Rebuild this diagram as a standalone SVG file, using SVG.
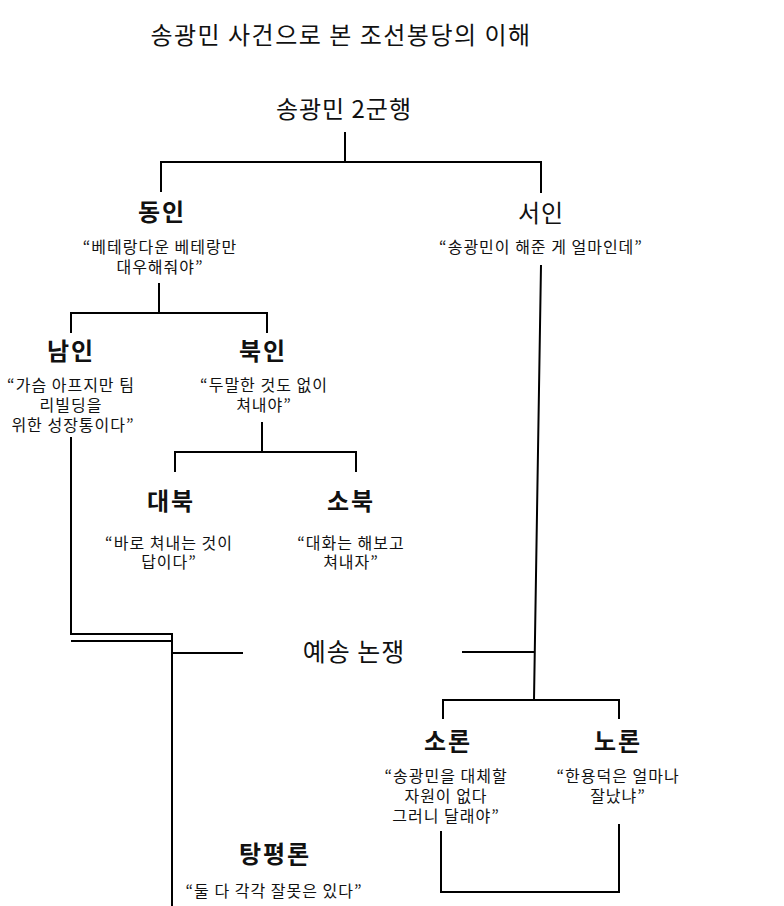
<svg xmlns="http://www.w3.org/2000/svg" width="784" height="906" viewBox="0 0 784 906">
<style>
text{font-family:"Noto Sans CJK KR","Noto Sans",sans-serif;fill:#111;text-anchor:middle}
.title{font-size:24px;letter-spacing:1.5px}
.head{font-size:24px;font-weight:bold;letter-spacing:2px}
.headn{font-size:24px;letter-spacing:1px}
.q{font-size:16px;letter-spacing:1px}
.ln{stroke:#000;stroke-width:2;fill:none}
</style>
<rect width="784" height="906" fill="#fff"/>
<text class="title" x="341" y="44">송광민 사건으로 본 조선봉당의 이해</text>
<g id="connectors">
<path class="ln" d="M345,132V162M161,192V162H541V193"/>
<path class="ln" d="M159,283V313M71,333V313H267V333"/>
<path class="ln" d="M262,422V452M175,472V452H356V472"/>
<path class="ln" d="M71,437V634H172V641M71,641H172V906M172,653H243"/>
<path class="ln" d="M541,265L534,700M462,652H535M443,719V700H619V719"/>
<path class="ln" d="M441,831V892H619V824"/>
</g>
<g id="root"><text class="headn" x="344" y="118">송광민 2군행</text></g>
<g id="dongin"><text class="head" x="162" y="221">동인</text>
<text class="q" x="160" y="253">“베테랑다운 베테랑만</text><text class="q" x="160" y="273">대우해줘야”</text></g>
<g id="seoin"><text class="headn" x="541" y="222">서인</text>
<text class="q" x="541" y="253">“송광민이 해준 게 얼마인데”</text></g>
<g id="namin"><text class="head" x="71" y="360">남인</text>
<text class="q" x="71" y="391">“가슴 아프지만 팀</text><text class="q" x="71" y="411">리빌딩을</text><text class="q" x="73" y="431">위한 성장통이다”</text></g>
<g id="bukin"><text class="head" x="263" y="360">북인</text>
<text class="q" x="264" y="391">“두말한 것도 없이</text><text class="q" x="264" y="411">쳐내야”</text></g>
<g id="daebuk"><text class="head" x="171" y="510">대북</text>
<text class="q" x="169" y="549">“바로 쳐내는 것이</text><text class="q" x="169" y="568">답이다”</text></g>
<g id="sobuk"><text class="head" x="351" y="510">소북</text>
<text class="q" x="351" y="549">“대화는 해보고</text><text class="q" x="351" y="568">쳐내자”</text></g>
<g id="yesong"><text class="headn" x="354" y="661" style="font-size:25px">예송 논쟁</text></g>
<g id="soron"><text class="head" x="448" y="750">소론</text>
<text class="q" x="446" y="782">“송광민을 대체할</text><text class="q" x="446" y="802">자원이 없다</text><text class="q" x="446" y="822">그러니 달래야”</text></g>
<g id="noron"><text class="head" x="618" y="750">노론</text>
<text class="q" x="618" y="782">“한용덕은 얼마나</text><text class="q" x="618" y="802">잘났냐”</text></g>
<g id="tangpyeong"><text class="head" x="275" y="863">탕평론</text>
<text class="q" x="274" y="897">“둘 다 각각 잘못은 있다”</text></g>
</svg>
